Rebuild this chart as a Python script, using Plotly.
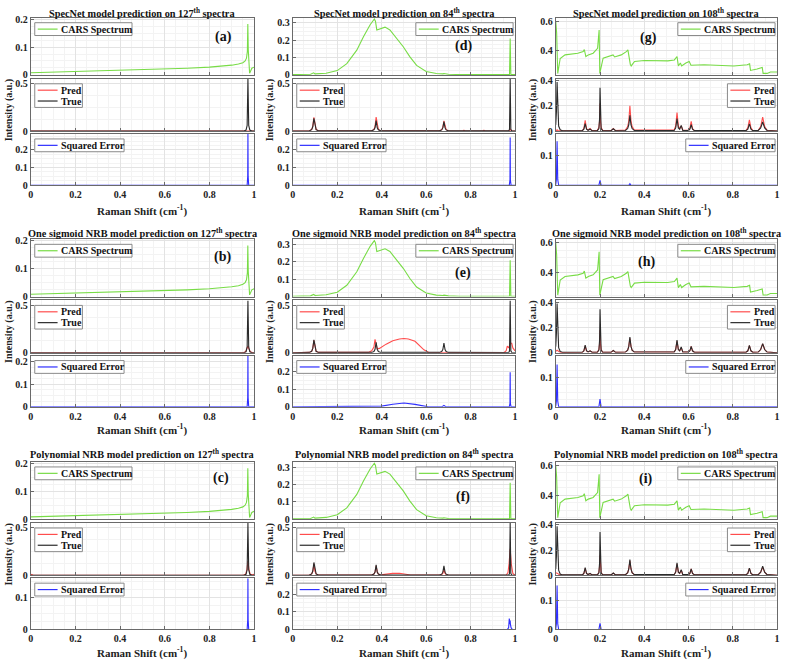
import plotly.graph_objects as go

W, H = 787, 666

# ------------------------------------------------------------------ data
SPECTRA_NO = [127, 84, 108]
MODEL_TITLES = ["SpecNet model", "One sigmoid NRB model", "Polynomial NRB model"]
PANEL_LABELS = [["(a)", "(b)", "(c)"], ["(d)", "(e)", "(f)"], ["(g)", "(h)", "(i)"]]
SERIES_NAMES = ["CARS Spectrum", "Pred", "True", "Squared Error"]
X_TICKS = [0, 0.2, 0.4, 0.6, 0.8, 1]

# ---- 127th spectrum
A_CARS_X = [0.0, 0.1, 0.2, 0.3, 0.4, 0.5, 0.6, 0.7, 0.8, 0.85, 0.9, 0.93, 0.95, 0.96,
            0.966, 0.970, 0.972, 0.974, 0.977, 0.980, 0.985, 0.99, 1.0]
A_CARS_Y = [0.008, 0.010, 0.012, 0.014, 0.016, 0.018, 0.021, 0.024, 0.028, 0.031, 0.035,
            0.039, 0.044, 0.050, 0.060, 0.085, 0.183, 0.090, 0.010, 0.006, 0.015, 0.024, 0.028]
A_TRUE_X = [0.0, 0.955, 0.964, 0.969, 0.9725, 0.976, 0.981, 0.99, 1.0]
A_TRUE_Y = [0.0, 0.0, 0.01, 0.06, 0.55, 0.06, 0.01, 0.0, 0.0]
A1_PRED_X = [0.0, 0.14, 0.16, 0.2, 0.25, 0.3, 0.35, 0.4, 0.45, 0.5, 0.58, 0.6, 0.62, 0.7,
             0.75, 0.9, 0.972, 1.0]
A1_PRED_Y = [0.0, 0.0, 0.004, 0.002, 0.004, 0.003, 0.004, 0.003, 0.005, 0.002, 0.004, 0.003,
             0.001, 0.003, 0.0, 0.0, 0.004, 0.0]
A1_ERR_X = [0.0, 0.969, 0.9715, 0.9725, 0.9735, 0.976, 1.0]
A1_ERR_Y = [0.0, 0.0, 0.05, 0.30, 0.05, 0.0, 0.0]
A2_PRED_X = [0.0, 0.95, 0.962, 0.968, 0.9725, 0.977, 0.983, 0.995, 1.0]
A2_PRED_Y = [0.0, 0.0, 0.01, 0.04, 0.07, 0.04, 0.01, 0.0, 0.0]
A2_ERR_X = [0.0, 0.969, 0.9715, 0.9725, 0.9735, 0.976, 1.0]
A2_ERR_Y = [0.0, 0.0, 0.04, 0.23, 0.04, 0.0, 0.0]
A3_PRED_X = [0.0, 0.01, 0.03, 0.95, 0.962, 0.968, 0.9725, 0.977, 0.983, 0.993, 1.0]
A3_PRED_Y = [0.01, 0.003, 0.0, 0.0, 0.01, 0.06, 0.15, 0.06, 0.01, 0.005, 0.012]
A3_ERR_X = [0.0, 0.969, 0.9715, 0.9725, 0.9735, 0.976, 1.0]
A3_ERR_Y = [0.0, 0.0, 0.03, 0.16, 0.03, 0.0, 0.0]

# ---- 84th spectrum
B_CARS_X = [0.0, 0.05, 0.08, 0.094, 0.10, 0.15, 0.2, 0.243, 0.288, 0.318, 0.348, 0.367, 0.372,
            0.378, 0.39, 0.40, 0.415, 0.437, 0.467, 0.497, 0.527, 0.557, 0.6, 0.646, 0.676,
            0.68, 0.70, 0.75, 0.9, 0.975, 0.978, 0.981, 0.985, 1.0]
B_CARS_Y = [0.002, 0.003, 0.004, 0.012, 0.006, 0.010, 0.025, 0.065, 0.143, 0.22, 0.29, 0.323,
            0.31, 0.26, 0.265, 0.27, 0.276, 0.26, 0.21, 0.163, 0.104, 0.055, 0.02, 0.008, 0.006,
            0.008, 0.004, 0.002, 0.002, 0.003, 0.21, 0.003, 0.002, 0.002]
B_TRUE_X = [0.0, 0.075, 0.085, 0.09, 0.095, 0.10, 0.105, 0.115, 0.355, 0.365, 0.37, 0.375,
            0.38, 0.385, 0.395, 0.66, 0.67, 0.675, 0.68, 0.685, 0.69, 0.70, 0.972, 0.975,
            0.978, 0.981, 0.985, 1.0]
B_TRUE_Y = [0.0, 0.003, 0.015, 0.045, 0.135, 0.045, 0.015, 0.003, 0.003, 0.013, 0.035, 0.11,
            0.035, 0.013, 0.003, 0.003, 0.012, 0.033, 0.10, 0.033, 0.012, 0.003, 0.002, 0.02,
            0.55, 0.02, 0.002, 0.0]
B1_PRED_X = [0.0, 0.075, 0.085, 0.09, 0.095, 0.10, 0.105, 0.115, 0.355, 0.365, 0.37, 0.375,
             0.38, 0.385, 0.395, 0.66, 0.67, 0.675, 0.68, 0.685, 0.69, 0.70, 0.765, 0.77,
             0.775, 0.855, 0.86, 0.865, 0.972, 0.978, 0.984, 1.0]
B1_PRED_Y = [0.0, 0.004, 0.018, 0.05, 0.145, 0.05, 0.018, 0.004, 0.004, 0.018, 0.05, 0.148,
             0.05, 0.018, 0.004, 0.004, 0.015, 0.04, 0.107, 0.04, 0.015, 0.004, 0.0, 0.01,
             0.0, 0.0, 0.01, 0.0, 0.0, 0.02, 0.0, 0.0]
B1_ERR_X = [0.0, 0.974, 0.977, 0.978, 0.979, 0.982, 1.0]
B1_ERR_Y = [0.0, 0.0, 0.03, 0.27, 0.03, 0.0, 0.0]
B2_PRED_X = [0.0, 0.075, 0.085, 0.09, 0.095, 0.10, 0.105, 0.115, 0.34, 0.355, 0.365, 0.37,
             0.375, 0.38, 0.39, 0.40, 0.42, 0.45, 0.48, 0.50, 0.52, 0.55, 0.57, 0.59, 0.61,
             0.68, 0.75, 0.95, 0.96, 0.965, 0.972, 0.978, 0.985, 0.99, 1.0]
B2_PRED_Y = [0.0, 0.003, 0.015, 0.045, 0.13, 0.045, 0.015, 0.003, 0.003, 0.02, 0.06, 0.14,
             0.07, 0.04, 0.045, 0.06, 0.09, 0.125, 0.145, 0.15, 0.145, 0.12, 0.08, 0.03, 0.005,
             0.004, 0.0, 0.0, 0.02, 0.07, 0.05, 0.10, 0.10, 0.05, 0.02]
B2_ERR_X = [0.0, 0.35, 0.37, 0.38, 0.40, 0.45, 0.50, 0.55, 0.58, 0.61, 0.67, 0.68, 0.69,
            0.974, 0.977, 0.978, 0.979, 0.982, 1.0]
B2_ERR_Y = [0.0, 0.0, 0.001, 0.001, 0.004, 0.015, 0.022, 0.014, 0.006, 0.0, 0.0, 0.008, 0.0,
            0.0, 0.02, 0.196, 0.02, 0.0, 0.0]
B3_PRED_X = [0.0, 0.075, 0.085, 0.09, 0.095, 0.10, 0.105, 0.115, 0.355, 0.365, 0.37, 0.375,
             0.38, 0.385, 0.395, 0.42, 0.45, 0.48, 0.51, 0.53, 0.66, 0.67, 0.675, 0.68, 0.685,
             0.69, 0.70, 0.96, 0.968, 0.973, 0.978, 0.983, 0.99, 1.0]
B3_PRED_Y = [0.0, 0.003, 0.015, 0.04, 0.12, 0.04, 0.015, 0.003, 0.003, 0.013, 0.035, 0.10,
             0.035, 0.013, 0.004, 0.012, 0.02, 0.022, 0.015, 0.003, 0.002, 0.008, 0.02, 0.06,
             0.02, 0.008, 0.002, 0.0, 0.03, 0.12, 0.28, 0.12, 0.02, 0.0]
B3_ERR_X = [0.0, 0.67, 0.68, 0.69, 0.965, 0.971, 0.974, 0.977, 0.978, 0.979, 0.982, 0.988, 1.0]
B3_ERR_Y = [0.0, 0.0, 0.002, 0.0, 0.0, 0.01, 0.062, 0.03, 0.05, 0.03, 0.01, 0.0, 0.0]

# ---- 108th spectrum
C_CARS_X = [0.0, 0.004, 0.009, 0.02, 0.042, 0.072, 0.10, 0.124, 0.129, 0.136, 0.147, 0.169,
            0.189, 0.196, 0.199, 0.214, 0.237, 0.259, 0.266, 0.296, 0.319, 0.326, 0.337, 0.341,
            0.356, 0.40, 0.506, 0.536, 0.548, 0.554, 0.563, 0.569, 0.588, 0.603, 0.611, 0.67,
            0.805, 0.865, 0.876, 0.88, 0.91, 0.933, 0.937, 0.955, 0.97, 1.0]
C_CARS_Y = [0.60, 0.52, 0.25, 0.35, 0.374, 0.38, 0.385, 0.396, 0.41, 0.363, 0.374, 0.385,
            0.418, 0.54, 0.25, 0.352, 0.363, 0.374, 0.36, 0.374, 0.396, 0.407, 0.31, 0.30,
            0.33, 0.336, 0.334, 0.34, 0.363, 0.30, 0.32, 0.30, 0.32, 0.33, 0.305, 0.308, 0.30,
            0.308, 0.315, 0.27, 0.28, 0.29, 0.25, 0.25, 0.26, 0.26]
C_TRUE_X = [0.0, 0.003, 0.006, 0.009, 0.013, 0.02, 0.03,
            0.12, 0.127, 0.133, 0.139, 0.146, 0.155, 0.164,
            0.188, 0.195, 0.198, 0.200, 0.202, 0.205, 0.212,
            0.25, 0.26, 0.27,
            0.315, 0.325, 0.330, 0.335, 0.340, 0.345, 0.355,
            0.535, 0.542, 0.548, 0.554, 0.56, 0.567, 0.574,
            0.60, 0.606, 0.612, 0.618, 0.626,
            0.86, 0.868, 0.875, 0.882, 0.89,
            0.915, 0.926, 0.935, 0.944, 0.955, 1.0]
C_TRUE_Y = [0.05, 0.15, 0.39, 0.15, 0.04, 0.01, 0.003,
            0.003, 0.015, 0.06, 0.015, 0.006, 0.015, 0.003,
            0.003, 0.02, 0.1, 0.345, 0.1, 0.02, 0.003,
            0.003, 0.018, 0.003,
            0.005, 0.02, 0.05, 0.125, 0.05, 0.02, 0.005,
            0.005, 0.025, 0.10, 0.025, 0.015, 0.045, 0.005,
            0.005, 0.015, 0.05, 0.015, 0.004,
            0.004, 0.015, 0.057, 0.015, 0.004,
            0.005, 0.025, 0.072, 0.025, 0.005, 0.0]
C_PRED_X = C_TRUE_X
C1_PRED_Y = [0.0, 0.005, 0.01, 0.005, 0.003, 0.002, 0.002,
             0.003, 0.02, 0.086, 0.02, 0.008, 0.02, 0.004,
             0.004, 0.03, 0.08, 0.22, 0.08, 0.03, 0.004,
             0.004, 0.02, 0.004,
             0.008, 0.035, 0.08, 0.20, 0.08, 0.035, 0.008,
             0.008, 0.04, 0.148, 0.04, 0.02, 0.04, 0.006,
             0.006, 0.02, 0.078, 0.02, 0.005,
             0.005, 0.025, 0.09, 0.025, 0.005,
             0.006, 0.035, 0.11, 0.035, 0.006, 0.0]
C2_PRED_Y = [0.01, 0.015, 0.02, 0.015, 0.008, 0.004, 0.002,
             0.003, 0.014, 0.055, 0.014, 0.006, 0.014, 0.003,
             0.003, 0.025, 0.07, 0.18, 0.07, 0.025, 0.003,
             0.003, 0.017, 0.003,
             0.005, 0.02, 0.05, 0.115, 0.05, 0.02, 0.005,
             0.005, 0.025, 0.09, 0.025, 0.015, 0.04, 0.005,
             0.005, 0.015, 0.05, 0.015, 0.004,
             0.004, 0.015, 0.055, 0.015, 0.004,
             0.005, 0.025, 0.07, 0.025, 0.005, 0.0]
C3_PRED_Y = [0.02, 0.018, 0.02, 0.015, 0.008, 0.004, 0.002,
             0.003, 0.014, 0.055, 0.014, 0.006, 0.014, 0.003,
             0.003, 0.025, 0.07, 0.16, 0.07, 0.025, 0.003,
             0.003, 0.017, 0.003,
             0.005, 0.02, 0.05, 0.115, 0.05, 0.02, 0.005,
             0.005, 0.025, 0.09, 0.025, 0.015, 0.04, 0.005,
             0.005, 0.015, 0.05, 0.015, 0.004,
             0.004, 0.015, 0.055, 0.015, 0.004,
             0.005, 0.025, 0.065, 0.025, 0.005, 0.0]
C_ERR_X = [0.0, 0.003, 0.006, 0.009, 0.013, 0.195, 0.2, 0.205, 0.33, 0.335, 0.34, 0.545,
           0.548, 0.551, 1.0]
C1_ERR_Y = [0.002, 0.02, 0.15, 0.02, 0.0, 0.0, 0.017, 0.0, 0.0, 0.005, 0.0, 0.0, 0.002, 0.0, 0.0]
C2_ERR_Y = [0.002, 0.02, 0.145, 0.02, 0.0, 0.0, 0.027, 0.0, 0.0, 0.001, 0.0, 0.0, 0.001, 0.0, 0.0]
C3_ERR_Y = [0.002, 0.02, 0.15, 0.02, 0.0, 0.0, 0.021, 0.0, 0.0, 0.001, 0.0, 0.0, 0.001, 0.0, 0.0]

CARS = [(A_CARS_X, A_CARS_Y), (B_CARS_X, B_CARS_Y), (C_CARS_X, C_CARS_Y)]
TRUE = [(A_TRUE_X, A_TRUE_Y), (B_TRUE_X, B_TRUE_Y), (C_TRUE_X, C_TRUE_Y)]
PRED = [[(A1_PRED_X, A1_PRED_Y), (A2_PRED_X, A2_PRED_Y), (A3_PRED_X, A3_PRED_Y)],
        [(B1_PRED_X, B1_PRED_Y), (B2_PRED_X, B2_PRED_Y), (B3_PRED_X, B3_PRED_Y)],
        [(C_PRED_X, C1_PRED_Y), (C_PRED_X, C2_PRED_Y), (C_PRED_X, C3_PRED_Y)]]
ERR = [[(A1_ERR_X, A1_ERR_Y), (A2_ERR_X, A2_ERR_Y), (A3_ERR_X, A3_ERR_Y)],
       [(B1_ERR_X, B1_ERR_Y), (B2_ERR_X, B2_ERR_Y), (B3_ERR_X, B3_ERR_Y)],
       [(C_ERR_X, C1_ERR_Y), (C_ERR_X, C2_ERR_Y), (C_ERR_X, C3_ERR_Y)]]

# y ranges [col][row][sub] and tick steps [col][sub]
Y_RANGES = [
    [[[0, 0.205], [0, 0.55], [0, 0.29]],
     [[0, 0.205], [0, 0.55], [0, 0.225]],
     [[0, 0.205], [0, 0.55], [0, 0.16]]],
    [[[0, 0.33], [0, 0.55], [0, 0.29]],
     [[0, 0.33], [0, 0.55], [0, 0.29]],
     [[0, 0.33], [0, 0.55], [0, 0.29]]],
    [[[0.24, 0.622], [0, 0.415], [0, 0.175]],
     [[0.24, 0.622], [0, 0.415], [0, 0.175]],
     [[0.24, 0.622], [0, 0.415], [0, 0.175]]],
]
Y_DTICK = [[0.1, 0.5, 0.1], [0.1, 0.5, 0.1], [0.2, 0.2, 0.1]]

# ------------------------------------------------------------------ layout geometry (px)
COLS = [(28, 253), (292, 516), (557, 780)]
ROW_TOP = [14, 239, 465]
SUB = [(0, 58), (62, 115), (118, 170)]
TITLE_Y = [9.5, 232.5, 457]
XLABEL_Y = [210, 432, 658]
YLABEL_X = [6, 269, 534]
LABEL_POS = [[(222, 34), (221, 257), (220, 481)],
             [(464, 43), (464, 273), (464, 501)],
             [(650, 35), (648, 262), (648, 482)]]
LEG_SIDE = [["left", "left", "left"], ["right", "left", "left"], ["right", "right", "right"]]
LEG_W = [98, 48, 90]

C_CARS = "#78dc46"
C_PRED = "#ff4d4d"
C_TRUE = "#2b2b2b"
C_ERR = "#2f2fff"
FONT = "Liberation Serif"
AX_COL = "#6a6a6a"


def px(x):
    return x / W


def py(y):
    return 1 - y / H


fig = go.Figure()
layout = {}
shapes = []
annots = []

n = 0
for c in range(3):
    for r in range(3):
        for s in range(3):
            n += 1
            xa = "x" if n == 1 else f"x{n}"
            ya = "y" if n == 1 else f"y{n}"
            top = ROW_TOP[r] + SUB[s][0]
            bot = ROW_TOP[r] + SUB[s][1]
            common = dict(showline=True, mirror=True, linecolor=AX_COL, linewidth=1,
                          ticks="inside", ticklen=3, tickcolor=AX_COL, zeroline=False,
                          showgrid=True, gridcolor="#e3e3e3", gridwidth=1,
                          tickfont=dict(family=FONT, size=10, color="#222", weight="bold"))
            layout["xaxis" if n == 1 else f"xaxis{n}"] = dict(
                domain=[px(COLS[c][0]), px(COLS[c][1])], anchor=ya, range=[0, 1],
                tickvals=X_TICKS, showticklabels=(s == 2),
                minor=dict(dtick=0.05, tick0=0, showgrid=True, gridcolor="#f3f3f3", ticks=""),
                **common)
            layout["yaxis" if n == 1 else f"yaxis{n}"] = dict(
                domain=[py(bot), py(top)], anchor=xa, range=Y_RANGES[c][r][s],
                dtick=Y_DTICK[c][s], tick0=0,
                minor=dict(dtick=Y_DTICK[c][s] / 4, tick0=0, showgrid=True,
                           gridcolor="#f3f3f3", ticks=""),
                **common)
            if s == 0:
                series = [(CARS[c], C_CARS, SERIES_NAMES[0])]
            elif s == 1:
                series = [(PRED[c][r], C_PRED, SERIES_NAMES[1]),
                          (TRUE[c], C_TRUE, SERIES_NAMES[2])]
            else:
                series = [(ERR[c][r], C_ERR, SERIES_NAMES[3])]
            for (xs, ys), col, name in series:
                fig.add_trace(go.Scatter(x=xs, y=ys, mode="lines", name=name,
                                         line=dict(color=col, width=1.1),
                                         xaxis=xa, yaxis=ya, showlegend=False,
                                         cliponaxis=True))
            # legend box
            side = LEG_SIDE[c][s]
            wbox = LEG_W[s]
            hbox = 13 if len(series) == 1 else 24
            bx0 = COLS[c][0] + 4 if side == "left" else COLS[c][1] - 2 - wbox
            by0 = top + 5
            shapes.append(dict(type="rect", xref="paper", yref="paper", layer="above",
                               x0=px(bx0), x1=px(bx0 + wbox), y0=py(by0 + hbox), y1=py(by0),
                               fillcolor="white", line=dict(color="#8a8a8a", width=1)))
            for i, (_, col, name) in enumerate(series):
                yc = by0 + 6.5 + i * 11
                shapes.append(dict(type="line", xref="paper", yref="paper", layer="above",
                                   x0=px(bx0 + 3), x1=px(bx0 + 23), y0=py(yc), y1=py(yc),
                                   line=dict(color=col, width=1.2)))
                annots.append(dict(text=name, xref="paper", yref="paper", x=px(bx0 + 24.5),
                                   y=py(yc), xanchor="left", yanchor="middle", showarrow=False,
                                   font=dict(family=FONT, size=10, color="#111", weight="bold")))
        # panel label, title
        lx, ly = LABEL_POS[c][r]
        annots.append(dict(text=PANEL_LABELS[c][r], xref="paper", yref="paper", x=px(lx),
                           y=py(ly), xanchor="center", yanchor="middle", showarrow=False,
                           font=dict(family=FONT, size=14, color="#111", weight="bold")))
        cx = (COLS[c][0] + COLS[c][1]) / 2
        annots.append(dict(text=f"{MODEL_TITLES[r]} prediction on {SPECTRA_NO[c]}<sup>th</sup> spectra",
                           xref="paper", yref="paper", x=px(cx), y=py(TITLE_Y[r]),
                           xanchor="center", yanchor="middle", showarrow=False,
                           font=dict(family=FONT, size=10.3, color="#111", weight="bold")))
        annots.append(dict(text="Raman Shift (cm<sup>-1</sup>)", xref="paper", yref="paper",
                           x=px(cx), y=py(XLABEL_Y[r]), xanchor="center", yanchor="middle",
                           showarrow=False,
                           font=dict(family=FONT, size=11, color="#222", weight="bold")))
        annots.append(dict(text="Intensity (a.u.)", xref="paper", yref="paper",
                           x=px(YLABEL_X[c]), y=py(ROW_TOP[r] + 93), xanchor="center",
                           yanchor="middle", textangle=-90, showarrow=False,
                           font=dict(family=FONT, size=10, color="#222", weight="bold")))

fig.update_layout(**layout)
fig.update_layout(width=W, height=H, margin=dict(l=0, r=0, t=0, b=0),
                  paper_bgcolor="white", plot_bgcolor="white", showlegend=False,
                  font=dict(family=FONT, size=10, color="#222"),
                  shapes=shapes, annotations=annots)
fig.write_html("out.html", config={"displayModeBar": False},
               post_script="document.body.style.margin='0px';"
                           "document.body.style.overflow='hidden';")
